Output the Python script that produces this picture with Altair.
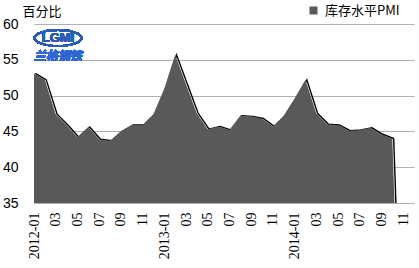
import altair as alt
import pandas as pd

# Monthly categories on the x axis (2012-01 .. 2014-12)
months = [
    "2012-01", "2012-02", "2012-03", "2012-04", "2012-05", "2012-06",
    "2012-07", "2012-08", "2012-09", "2012-10", "2012-11", "2012-12",
    "2013-01", "2013-02", "2013-03", "2013-04", "2013-05", "2013-06",
    "2013-07", "2013-08", "2013-09", "2013-10", "2013-11", "2013-12",
    "2014-01", "2014-02", "2014-03", "2014-04", "2014-05", "2014-06",
    "2014-07", "2014-08", "2014-09", "2014-10", "2014-11", "2014-12",
]

# Inventory-level PMI (percent); 2014-11 has no reading and is recorded as 0
pmi = [
    53.1, 52.2, 47.4, 45.9, 44.2, 45.6, 43.9, 43.7, 45.0, 45.9, 45.9, 47.4,
    51.0, 55.7, 51.6, 47.5, 45.3, 45.7, 45.2, 47.2, 47.1, 46.8, 45.7, 47.2,
    49.6, 52.2, 47.5, 46.0, 45.9, 45.1, 45.2, 45.5, 44.6, 44.0, 0.0,
]

# Axis labels every two months
tick_months = [m for m in months if int(m[5:]) % 2 == 1]
y_ticks = [35, 40, 45, 50, 55, 60]

series_name = "库存水平PMI"
fill_color = "#595959"

df = pd.DataFrame({
    "month": months[:len(pmi)],
    "pmi": pmi,
    "series": [series_name] * len(pmi),
})

x_enc = alt.X(
    "month:O",
    sort=months,
    scale=alt.Scale(type="point", domain=months, padding=0),
    axis=alt.Axis(
        values=tick_months,
        labelExpr="substring(datum.value, 5, 7) == '01' ? datum.value : substring(datum.value, 5, 7)",
        labelAngle=-90,
        labelAlign="right",
        labelBaseline="middle",
        labelFont="Times New Roman, Liberation Serif, serif",
        labelFontSize=14,
        labelColor="#000000",
        labelPadding=9,
        ticks=False,
        domain=False,
        grid=False,
        title=None,
    ),
)

y_scale = alt.Scale(domain=[35, 60], zero=False, nice=False)

y_axis = alt.Axis(
    values=y_ticks,
    labelFont="Liberation Sans",
    labelFontSize=14,
    labelColor="#000000",
    labelPadding=16,
    ticks=False,
    domain=False,
    grid=True,
    gridColor="#b0b0b0",
    gridWidth=1,
    title="百分比",
    titleAngle=0,
    titleAlign="left",
    titleBaseline="middle",
    titleFont="Noto Sans CJK SC",
    titleFontSize=13,
    titleFontWeight="normal",
    titleColor="#000000",
    titleX=-12,
    titleY=-13,
)

# Dark edge drawn slightly to the right so it shows along falling stretches
edge = alt.Chart(df).mark_line(
    color="#000000", strokeWidth=1.4, xOffset=1.4, clip=True
).encode(
    x=x_enc,
    y=alt.Y("pmi:Q", scale=y_scale, axis=y_axis),
)

area = alt.Chart(df).mark_area(clip=True, opacity=1).encode(
    x=x_enc,
    y=alt.Y("pmi:Q", scale=y_scale, axis=y_axis),
    color=alt.Color(
        "series:N",
        scale=alt.Scale(domain=[series_name], range=[fill_color]),
        legend=alt.Legend(
            title=None,
            orient="none",
            legendX=273,
            legendY=-20,
            symbolType="square",
            symbolSize=64,
            symbolStrokeWidth=0,
            labelFont="Noto Sans CJK SC",
            labelFontSize=13,
            labelColor="#000000",
            labelOffset=5,
            padding=0,
        ),
    ),
)

# Company logo inside the plot
logo_ring = alt.Chart(df).mark_point(
    shape="M-1,0A1,0.34 0 1,0 1,0A1,0.34 0 1,0 -1,0Z",
    size=2200, filled=False, color="#2a5cb8", strokeWidth=2, opacity=0.8,
).encode(x=alt.value(24), y=alt.value(14))
logo_text = alt.Chart(df).mark_text(
    text="LGMI", font="Liberation Sans", fontSize=13, fontWeight="bold",
    color="#2a5cb8", opacity=0.9,
).encode(x=alt.value(24), y=alt.value(14))
logo_cn = alt.Chart(df).mark_text(
    text="兰格钢铁", font="Noto Sans CJK SC", fontSize=12, fontWeight="bold",
    fontStyle="italic", color="#2f66d6", opacity=0.85,
).encode(x=alt.value(24), y=alt.value(32))

chart = alt.layer(edge, area, logo_ring, logo_text, logo_cn).properties(
    width=380,
    height=179,
    padding={"left": 34, "top": 24, "right": 5, "bottom": 65},
    autosize=alt.AutoSizeParams(type="none"),
    background="#ffffff",
).configure_view(stroke=None)

chart.save("out.html", embed_options={"renderer": "svg", "actions": False})
